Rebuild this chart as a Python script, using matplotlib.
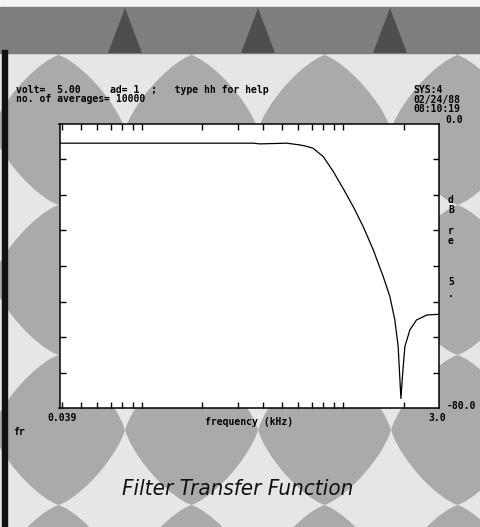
import numpy as np
import matplotlib
matplotlib.use("Agg")
import matplotlib.pyplot as plt
from matplotlib import font_manager
from matplotlib.patches import Polygon, Rectangle
from matplotlib.ticker import FixedLocator, NullFormatter, NullLocator

freq_khz = [0.039, 0.10, 0.20, 0.358, 0.386, 0.525, 0.611, 0.66, 0.711, 0.798,
            0.895, 1.00, 1.125, 1.26, 1.415, 1.585, 1.71, 1.81, 1.88, 1.94,
            1.98, 2.03, 2.15, 2.32, 2.61, 3.0]
gain_db = [-5.4, -5.4, -5.4, -5.4, -5.6, -5.4, -5.9, -6.3, -6.85, -9.2,
           -13.4, -18.1, -23.3, -28.9, -35.5, -43.0, -48.6, -55.2, -62.7, -77.3,
           -70.2, -62.7, -58.0, -55.2, -53.8, -53.6]

x_minor = [0.04, 0.05, 0.06, 0.07, 0.08, 0.09, 0.2, 0.3, 0.4, 0.5, 0.6, 0.7,
           0.8, 0.9, 2.0]
x_major = [0.1, 1.0]
y_ticks = [-70, -60, -50, -40, -30, -20, -10]

header_left = ["volt=  5.00     ad= 1  ;   type hh for help",
               "no. of averages= 10000"]
header_right = ["SYS:4", "02/24/88", "08:10:19"]
ylabel_chars = ["d", "B", "r", "e", "5", "."]

W, H = 480, 527
fig = plt.figure(figsize=(W / 100, H / 100), dpi=100)

# scanned background
bg = fig.add_axes([0, 0, 1, 1], zorder=0)
bg.set_xlim(0, W)
bg.set_ylim(H, 0)
bg.axis("off")
bg.add_patch(Rectangle((0, 0), W, H, color="#aaaaaa"))
t = np.linspace(0, 2 * np.pi, 240)
p = 2.6
for i in range(-1, 5):
    for j in range(0, 4):
        cx, cy = -8 + 133 * i, 55 + 150 * j
        xs = cx + 67 * np.sign(np.cos(t)) * np.abs(np.cos(t)) ** p
        ys = cy + 76 * np.sign(np.sin(t)) * np.abs(np.sin(t)) ** p
        bg.add_patch(Polygon(np.column_stack([xs, ys]), color="#e6e6e6", lw=0))
bg.add_patch(Rectangle((0, 0), W, 7, color="#f4f4f4"))
bg.add_patch(Rectangle((0, 7), W, 46, color="#7e7e7e"))
for cx in [125, 258, 390]:
    bg.add_patch(Polygon([[cx, 8], [cx - 17, 53], [cx + 17, 53]], color="#4e4e4e", lw=0))
bg.add_patch(Rectangle((2, 50), 5, H - 50, color="#111111"))

# plot box
ax = fig.add_axes([59.5 / W, 1 - 408 / H, 379.5 / W, 284 / H], zorder=2)
ax.set_facecolor("white")
ax.plot(freq_khz, gain_db, color="black", lw=0.9)
ax.set_xscale("log")
ax.set_xlim(0.039, 3.0)
ax.set_ylim(-80, 0)
ax.xaxis.set_major_locator(FixedLocator(x_major))
ax.xaxis.set_minor_locator(FixedLocator(x_minor))
ax.xaxis.set_major_formatter(NullFormatter())
ax.xaxis.set_minor_formatter(NullFormatter())
ax.yaxis.set_major_locator(FixedLocator(y_ticks))
ax.yaxis.set_minor_locator(NullLocator())
ax.set_yticklabels([])
ax.tick_params(which="both", direction="in", length=4, width=1,
               top=True, bottom=True, left=True, right=True)
for s in ax.spines.values():
    s.set_linewidth(1.1)

mono = dict(family="DejaVu Sans Mono", weight="bold", fontsize=7, color="black")


def put(x, y, s, ha="left", **kw):
    fig.text(x / W, 1 - y / H, s, ha=ha, va="center", zorder=5, **{**mono, **kw})


for k, line in enumerate(header_left):
    put(16, 90 + 9.5 * k, line)
for k, line in enumerate(header_right):
    put(413, 90 + 9.5 * k, line)
put(445, 120, "0.0")
put(447, 406, "-80.0")
put(47, 418, "0.039")
put(428, 418, "3.0")
put(205, 422, "frequency (kHz)")
put(13, 432, "fr")
for ch, y in zip(ylabel_chars, [200, 210, 231, 241, 282, 294]):
    put(451, y, ch, ha="center")

# condensed oblique face for the caption, if one is installed
best = None
for f in font_manager.fontManager.ttflist:
    name = f.name.lower() + " " + str(f.fname).lower()
    narrow = ("condensed" in name or "narrow" in name
              or f.stretch in ("condensed", "semi-condensed", "extra-condensed"))
    if not narrow or f.weight not in (400, "normal", "regular", 500, "medium"):
        continue
    score = 2 if f.style in ("italic", "oblique") else 1
    if best is None or score > best[0]:
        best = (score, f)
if best is not None:
    f = best[1]
    title_font = font_manager.FontProperties(fname=f.fname, size=16)
    if f.style == "normal":
        title_font.set_style("italic")
    fig.text(238 / W, 1 - 489 / H, "Filter Transfer Function", ha="center", va="center",
             fontproperties=title_font, color="#111111", zorder=5)
else:
    fig.text(238 / W, 1 - 489 / H, "Filter Transfer Function", ha="center", va="center",
             family=["Liberation Sans", "DejaVu Sans"], style="italic",
             fontsize=15, color="#111111", zorder=5)

fig.savefig("out.png", dpi=100)
